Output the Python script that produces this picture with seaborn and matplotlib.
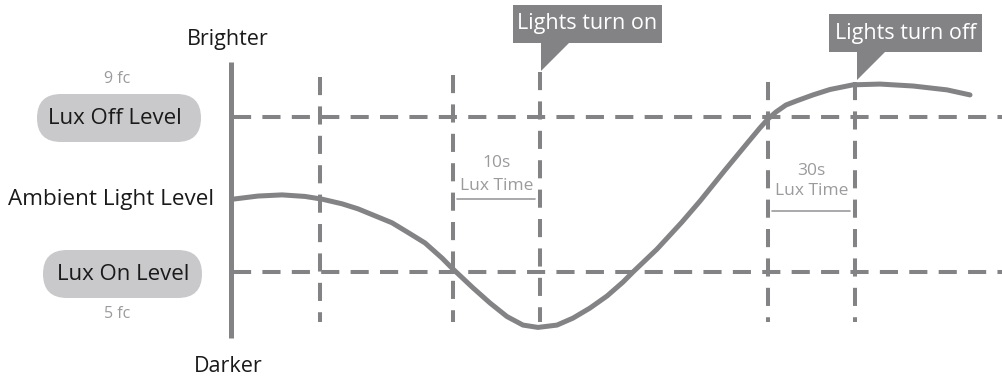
import numpy as np
import pandas as pd
import matplotlib
matplotlib.use("Agg")
import matplotlib.pyplot as plt
from matplotlib.patches import FancyBboxPatch, Rectangle, Polygon
import seaborn as sns

# ambient light curve (time in schematic units, level in fc)
time_pts = [233, 258, 282, 305, 322, 342, 358, 375, 392, 408, 425, 442, 452,
            473, 490, 507, 523, 538, 557, 573, 590, 607, 623, 633, 657, 682,
            700, 725, 750, 760, 768, 776, 786, 797, 813, 830, 853, 880, 913,
            947, 970]
light_fc = [6.88, 6.96, 6.99, 6.95, 6.88, 6.76, 6.63, 6.45, 6.27, 6.02, 5.75,
            5.36, 5.10, 4.59, 4.20, 3.85, 3.63, 3.57, 3.63, 3.81, 4.07, 4.38,
            4.74, 5.00, 5.59, 6.29, 6.83, 7.63, 8.41, 8.72, 8.95, 9.13, 9.31,
            9.42, 9.57, 9.71, 9.83, 9.85, 9.80, 9.70, 9.57]

lux_off_fc = 9
lux_on_fc = 5
event_t = [320, 453, 540, 768, 855]
lux_times = ["10s", "30s"]

GRAY = "#838386"
LIGHT = "#9b9b9e"
PILL = "#c9c9cb"


def fc(row):
    # pixel row -> fc on this schematic scale
    return (465.75 - row) / 38.75


sns.set_theme(style="white")
plt.rcParams["font.family"] = ["Open Sans", "DejaVu Sans"]

fig = plt.figure(figsize=(10.03, 3.79), dpi=100)
ax = fig.add_axes([0, 0, 1, 1])

dash = (0, (4.5, 2.8))

# level lines
for lvl in [lux_off_fc, lux_on_fc]:
    ax.axhline(lvl, xmin=233 / 1003, xmax=1, color=GRAY, lw=2.9, ls=dash,
               dash_capstyle="butt")

# event lines
tops = [77, 75, 72, 82, 82]
for t, top in zip(event_t, tops):
    ax.plot([t, t], [fc(top), fc(322)], color=GRAY, lw=2.9, ls=dash,
            dash_capstyle="butt")

# vertical axis
ax.plot([231, 231], [fc(62), fc(338)], color=GRAY, lw=3.6, solid_capstyle="butt")

df = pd.DataFrame({"t": time_pts, "fc": light_fc})
sns.lineplot(data=df, x="t", y="fc", color=GRAY, lw=3.6, ax=ax, sort=False,
             estimator=None)
ax.lines[-1].set_solid_joinstyle("round")
ax.set_xlim(0, 1003)
ax.set_ylim(fc(379), fc(0))
ax.axis("off")

# level pills
for (x0, x1, r0, r1), label, tx, ty in [((37, 201, 94, 142), "Lux Off Level", 115, 119),
                                         ((43, 202, 250, 298), "Lux On Level", 123, 275)]:
    ax.add_patch(FancyBboxPatch((x0, fc(r1)), x1 - x0, fc(r0) - fc(r1),
                                boxstyle="round,pad=0,rounding_size=24",
                                mutation_aspect=1 / 38.75, fc=PILL, ec="none"))
    ax.text(tx, fc(ty), label, ha="center", va="center", fontsize=16, color="#1a1a1a")

ax.text(117, fc(79), f"{lux_off_fc} fc", ha="center", va="center", fontsize=11.5, color=LIGHT)
ax.text(117, fc(314), f"{lux_on_fc} fc", ha="center", va="center", fontsize=11.5, color=LIGHT)

ax.text(228, fc(39), "Brighter", ha="center", va="center", fontsize=15.5, color="#1a1a1a")
ax.text(228, fc(367), "Darker", ha="center", va="center", fontsize=15.5, color="#1a1a1a")
ax.text(111, fc(199), "Ambient Light Level", ha="center", va="center", fontsize=16.2,
        color="#1a1a1a")

# callouts
for (x0, x1, r0, r1), tip, label in [((513, 662, 5, 43), (541, 71), "Lights turn on"),
                                     ((829, 982, 14, 52), (857, 80), "Lights turn off")]:
    ax.add_patch(Rectangle((x0, fc(r1)), x1 - x0, fc(r0) - fc(r1), color=GRAY, lw=0))
    ax.add_patch(Polygon([(tip[0], fc(r1 - 1)), (tip[0] + 29, fc(r1 - 1)),
                          (tip[0], fc(tip[1]))], closed=True, color=GRAY, lw=0))
    ax.text((x0 + x1) / 2, fc((r0 + r1) / 2), label, ha="center", va="center",
            fontsize=15.5, color="white")

# lux time spans
for (a, b), lab, r_num, r_lab, r_line in [((453, 540), lux_times[0], 163, 186, 199),
                                          ((768, 855), lux_times[1], 171, 191, 211)]:
    mid = (a + b) / 2
    ax.text(mid, fc(r_num), lab, ha="center", va="center", fontsize=12.5, color=LIGHT)
    ax.text(mid, fc(r_lab), "Lux Time", ha="center", va="center", fontsize=12.5, color=LIGHT)
    ax.plot([a + 4, b - 5], [fc(r_line), fc(r_line)], color=LIGHT, lw=1.2)

fig.savefig("out.png", dpi=100, facecolor="white")
